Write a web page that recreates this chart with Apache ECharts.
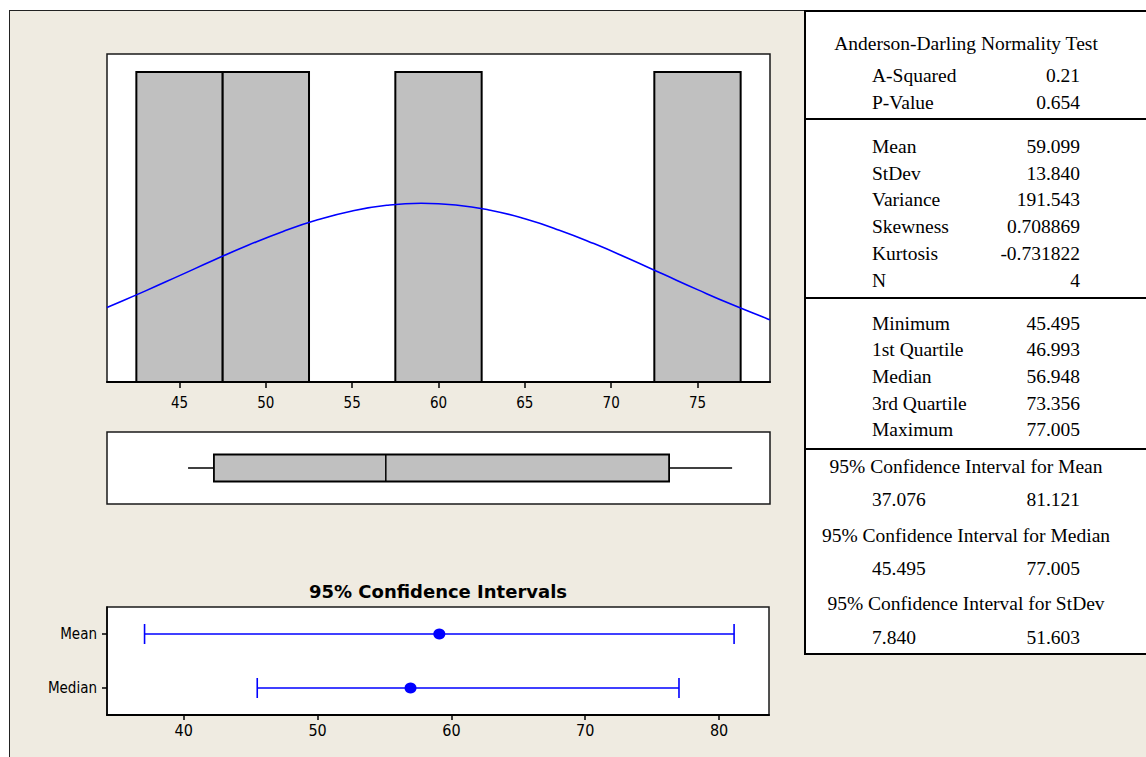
<!DOCTYPE html>
<html><head><meta charset="utf-8">
<script src="https://cdn.jsdelivr.net/npm/echarts@6/dist/echarts.min.js"></script>
<style>
html,body{margin:0;padding:0;background:#fff;}
#wrap{position:relative;width:1146px;height:757px;overflow:hidden;background:#fff;}
#frame{position:absolute;left:9px;top:10px;width:1200px;height:800px;background:#EFEBE1;border-top:1.5px solid #222;border-left:1.5px solid #222;box-sizing:border-box;}
#chart{position:absolute;left:0;top:0;width:1146px;height:757px;}
</style></head>
<body><div id="wrap"><div id="frame"></div><div id="chart"></div></div>
<script>
// ---- data ----
const histTicks = [45, 50, 55, 60, 65, 70, 75];
const binStart = [42.5, 47.5, 57.5, 72.5];
const binEnd = [47.5, 52.5, 62.5, 77.5];
const binCount = [1, 1, 1, 1];
const curveX = [40.8, 41, 43, 45, 47, 49, 51, 53, 55, 57, 59, 61, 63, 65, 67, 69, 71, 73, 75, 77, 79, 79.2];
const curveY = [0.2405, 0.2451, 0.2931, 0.3431, 0.3934, 0.4417, 0.4858, 0.5231, 0.5518, 0.5699, 0.5765, 0.5711, 0.5541, 0.5264, 0.4898, 0.4464, 0.3984, 0.3481, 0.2980, 0.2498, 0.2051, 0.2008];
const boxStats = [45.495, 46.993, 56.948, 73.356, 77.005];
const ciCategories = ['Mean', 'Median'];
const ciLow = [37.076, 45.495];
const ciCenter = [59.099, 56.948];
const ciHigh = [81.121, 77.005];
const ciTicks = [40, 50, 60, 70, 80];
const ciTitle = '95% Confidence Intervals';
const adTitle = 'Anderson-Darling Normality Test';
const adLabels = ['A-Squared', 'P-Value'];
const adValues = ['0.21', '0.654'];
const descLabels = ['Mean', 'StDev', 'Variance', 'Skewness', 'Kurtosis', 'N'];
const descValues = ['59.099', '13.840', '191.543', '0.708869', '-0.731822', '4'];
const quartLabels = ['Minimum', '1st Quartile', 'Median', '3rd Quartile', 'Maximum'];
const quartValues = ['45.495', '46.993', '56.948', '73.356', '77.005'];
const ciTableTitles = ['95% Confidence Interval for Mean', '95% Confidence Interval for Median', '95% Confidence Interval for StDev'];
const ciTableLow = ['37.076', '45.495', '7.840'];
const ciTableHigh = ['81.121', '77.005', '51.603'];

// ---- styling / layout ----
const SERIF = '19.5px "Liberation Serif", "Times New Roman", serif';
const AXFONT = '"DejaVu Sans Condensed", "DejaVu Sans", sans-serif';
const BLUE = '#0000FF';
const labX = 872, valX = 1080, midX = 966;

const chart = echarts.init(document.getElementById('chart'), null, {renderer: 'svg', width: 1146, height: 757});

const g = [];
g.push({type: 'rect', shape: {x: 805, y: 11, width: 400, height: 643}, style: {fill: '#fff', stroke: '#000', lineWidth: 2}});
[119, 298, 449].forEach(y => g.push({type: 'line', shape: {x1: 805, y1: y, x2: 1146, y2: y}, style: {stroke: '#000', lineWidth: 2}}));
function txt(t, x, y, align, font) {
  g.push({type: 'text', x: x, y: y, style: {text: t, font: font || SERIF, fill: '#000', align: align, verticalAlign: 'middle'}});
}
txt(adTitle, midX, 43.7, 'center');
adLabels.forEach((l, i) => { const y = 75 + i * 27; txt(l, labX, y, 'left'); txt(adValues[i], valX, y, 'right'); });
descLabels.forEach((l, i) => { const y = 146.3 + i * 26.8; txt(l, labX, y, 'left'); txt(descValues[i], valX, y, 'right'); });
quartLabels.forEach((l, i) => { const y = 323 + i * 26.7; txt(l, labX, y, 'left'); txt(quartValues[i], valX, y, 'right'); });
ciTableTitles.forEach((t, i) => {
  const y = 466.3 + i * 68.7;
  txt(t, midX, y, 'center');
  txt(ciTableLow[i], labX, y + 33.4, 'left');
  txt(ciTableHigh[i], valX, y + 33.4, 'right');
});
txt(ciTitle, 438, 591, 'center', 'bold 18px "DejaVu Sans", sans-serif');

const gridBase = {show: true, backgroundColor: '#fff', borderColor: '#1a1a1a', borderWidth: 1.5, containLabel: false};

const option = {
  animation: false,
  backgroundColor: 'transparent',
  graphic: g,
  grid: [
    Object.assign({left: 107, top: 54, width: 663, height: 328}, gridBase),
    Object.assign({left: 107, top: 432, width: 663, height: 72}, gridBase),
    Object.assign({left: 107, top: 607, width: 662, height: 108}, gridBase)
  ],
  xAxis: [
    {type: 'value', gridIndex: 0, min: 40.8, max: 79.2, splitLine: {show: false},
     axisLine: {show: true, lineStyle: {color: '#000', width: 2}},
     axisTick: {show: true, length: 6, customValues: histTicks, lineStyle: {color: '#000', width: 1.5}},
     axisLabel: {customValues: histTicks, color: '#000', fontSize: 15, fontFamily: AXFONT, margin: 13}},
    {type: 'value', gridIndex: 1, min: 40.8, max: 79.2, show: false},
    {type: 'value', gridIndex: 2, min: 34.27, max: 83.73, splitLine: {show: false},
     axisLine: {show: true, lineStyle: {color: '#000', width: 2}},
     axisTick: {show: true, length: 5, customValues: ciTicks, lineStyle: {color: '#000', width: 1.5}},
     axisLabel: {customValues: ciTicks, color: '#000', fontSize: 16, fontFamily: AXFONT, margin: 7}}
  ],
  yAxis: [
    {type: 'value', gridIndex: 0, min: 0, max: 1.058, show: false},
    {type: 'category', gridIndex: 1, data: ['box'], show: false},
    {type: 'category', gridIndex: 2, data: ciCategories, inverse: true,
     axisLine: {show: true, lineStyle: {color: '#000', width: 1.5}},
     axisTick: {show: true, alignWithLabel: true, length: 5, lineStyle: {color: '#000', width: 1.5}},
     axisLabel: {color: '#000', fontSize: 15, fontFamily: AXFONT, margin: 10},
     splitLine: {show: false}}
  ],
  series: [
    {type: 'custom', xAxisIndex: 0, yAxisIndex: 0, z: 2,
     data: binStart.map((s, i) => [s, binEnd[i], binCount[i]]),
     encode: {x: [0, 1], y: 2},
     renderItem: (params, api) => {
       const p0 = api.coord([api.value(0), api.value(2)]);
       const p1 = api.coord([api.value(1), 0]);
       return {type: 'rect', shape: {x: p0[0], y: p0[1], width: p1[0] - p0[0], height: p1[1] - p0[1]},
               style: {fill: '#C0C0C0', stroke: '#000', lineWidth: 2}};
     }},
    {type: 'line', xAxisIndex: 0, yAxisIndex: 0, z: 3, smooth: true, showSymbol: false,
     data: curveX.map((x, i) => [x, curveY[i]]),
     lineStyle: {color: BLUE, width: 1.6}},
    {type: 'custom', xAxisIndex: 1, yAxisIndex: 1, z: 2,
     data: [['box'].concat(boxStats)],
     encode: {y: 0, x: [1, 2, 3, 4, 5]},
     renderItem: (params, api) => {
       const yc = api.coord([api.value(1), 0])[1];
       const x = [1, 2, 3, 4, 5].map(i => api.coord([api.value(i), 0])[0]);
       const h = 27;
       const ls = {stroke: '#000', lineWidth: 1.5};
       return {type: 'group', children: [
         {type: 'line', shape: {x1: x[0], y1: yc, x2: x[1], y2: yc}, style: ls},
         {type: 'line', shape: {x1: x[3], y1: yc, x2: x[4], y2: yc}, style: ls},
         {type: 'rect', shape: {x: x[1], y: yc - h / 2, width: x[3] - x[1], height: h}, style: {fill: '#C0C0C0', stroke: '#000', lineWidth: 1.8}},
         {type: 'line', shape: {x1: x[2], y1: yc - h / 2, x2: x[2], y2: yc + h / 2}, style: ls}
       ]};
     }},
    {type: 'custom', xAxisIndex: 2, yAxisIndex: 2, z: 2,
     data: ciCategories.map((c, i) => [ciLow[i], c, ciHigh[i]]),
     encode: {x: [0, 2], y: 1},
     renderItem: (params, api) => {
       const pL = api.coord([api.value(0), api.value(1)]);
       const pH = api.coord([api.value(2), api.value(1)]);
       const ls = {stroke: BLUE, lineWidth: 1.6};
       return {type: 'group', children: [
         {type: 'line', shape: {x1: pL[0], y1: pL[1], x2: pH[0], y2: pH[1]}, style: ls},
         {type: 'line', shape: {x1: pL[0], y1: pL[1] - 10, x2: pL[0], y2: pL[1] + 10}, style: ls},
         {type: 'line', shape: {x1: pH[0], y1: pH[1] - 10, x2: pH[0], y2: pH[1] + 10}, style: ls}
       ]};
     }},
    {type: 'scatter', xAxisIndex: 2, yAxisIndex: 2, z: 3, symbol: 'circle', symbolSize: [12, 11],
     data: ciCategories.map((c, i) => [ciCenter[i], c]),
     itemStyle: {color: BLUE, opacity: 1}}
  ]
};
chart.setOption(option);
</script>
</body></html>
